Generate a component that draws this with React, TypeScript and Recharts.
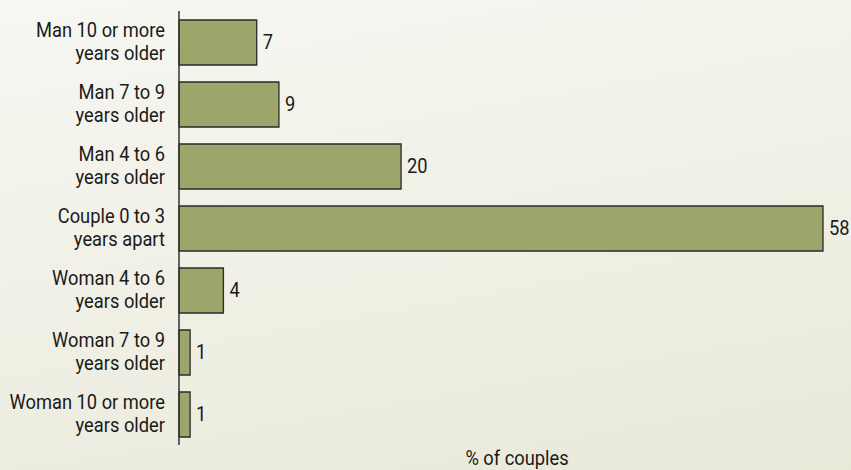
import { BarChart, Bar, XAxis, YAxis, LabelList } from 'recharts'

const labelTop = [
  'Man 10 or more',
  'Man 7 to 9',
  'Man 4 to 6',
  'Couple 0 to 3',
  'Woman 4 to 6',
  'Woman 7 to 9',
  'Woman 10 or more',
]
const labelBottom = [
  'years older',
  'years older',
  'years older',
  'years apart',
  'years older',
  'years older',
  'years older',
]
const shares = [7, 9, 20, 58, 4, 1, 1]

const data = shares.map((v, i) => ({ name: String(i), value: v }))

const font = 'Roboto, "Liberation Sans", Arial, sans-serif'
const textColor = '#1a1a1a'
const squeeze = 0.915

// condensed-looking text: Roboto squeezed horizontally around its anchor point
function Narrow({ x, y, anchor, children }: { x: number; y: number; anchor: 'start' | 'middle' | 'end'; children: any }) {
  return (
    <g transform={`translate(${x},${y}) scale(${squeeze},1)`}>
      <text x={0} y={0} textAnchor={anchor} dominantBaseline="central" fontSize={20} fill={textColor} fontFamily={font}>
        {children}
      </text>
    </g>
  )
}

function CategoryTick(props: any) {
  const { y, payload } = props
  const i = Number(payload.value)
  return (
    <g>
      <Narrow x={165} y={y - 12} anchor="end">{labelTop[i]}</Narrow>
      <Narrow x={165} y={y + 11} anchor="end">{labelBottom[i]}</Narrow>
    </g>
  )
}

function ValueLabel(props: any) {
  const { x, y, width, height, value } = props
  return <Narrow x={x + width + 6} y={y + height / 2} anchor="start">{value}</Narrow>
}

export default function App() {
  return (
    <div
      style={{
        position: 'absolute',
        left: 0,
        top: 0,
        width: 851,
        height: 470,
        background: 'linear-gradient(170deg, #f7f7f3 0%, #f0f0e6 50%, #e9e9da 100%)',
      }}
    >
      <BarChart
        width={851}
        height={470}
        data={data}
        layout="vertical"
        margin={{ top: 11, right: 28, bottom: 25, left: 0 }}
      >
        <XAxis type="number" domain={[0, 58]} hide />
        <YAxis
          type="category"
          dataKey="name"
          width={179}
          tickLine={false}
          axisLine={{ stroke: '#333', strokeWidth: 1.5 }}
          tick={<CategoryTick />}
          interval={0}
        />
        <Bar dataKey="value" fill="#9ea56a" stroke="#2a2a2a" strokeWidth={1.3} barSize={45} isAnimationActive={false}>
          <LabelList dataKey="value" content={<ValueLabel />} />
        </Bar>
        <Narrow x={517} y={458} anchor="middle">% of couples</Narrow>
      </BarChart>
    </div>
  )
}
